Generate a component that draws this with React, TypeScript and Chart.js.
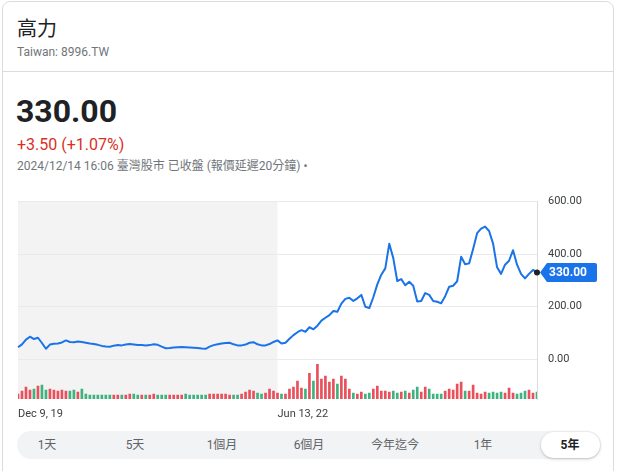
import React, { useEffect, useRef } from "react";
import { Chart, registerables } from "chart.js";

Chart.register(...registerables);

// ---- data ----
const prices: number[] = [
  46, 57, 75, 86, 77, 82, 62, 40, 56, 59,
  60, 64, 72, 66, 65, 68, 66, 63, 60, 58,
  55, 51, 49, 48, 52, 54, 53, 56, 58, 56,
  54, 54, 53, 54, 57, 55, 48, 42, 43, 45,
  46, 47, 46, 45, 44, 43, 41, 40, 48, 54,
  57, 60, 62, 63, 57, 53, 53, 56, 63, 65,
  57, 53, 53, 58, 66, 72, 60, 63, 78, 92,
  103, 111, 105, 122, 114, 128, 147, 158, 168, 184,
  181, 212, 230, 234, 222, 232, 245, 200, 195, 236,
  285, 322, 346, 440, 385, 298, 305, 282, 295, 280,
  220, 222, 252, 245, 222, 219, 213, 240, 276, 280,
  297, 390, 362, 365, 420, 480, 497, 505, 488, 440,
  350, 325, 360, 375, 415, 360, 325, 308, 325, 340,
  330,
];

const volumes: number[] = [
  1250, 2000, 3000, 2250, 2500, 3250, 3500, 2250, 2500, 2250,
  2000, 2250, 2000, 2000, 2250, 1750, 2500, 1250, 1000, 1000,
  1000, 1000, 1000, 1000, 1000, 1000, 1000, 1000, 1250, 1250,
  1000, 1000, 1000, 1000, 1250, 1000, 1000, 1000, 1000, 1000,
  1000, 1000, 1250, 1000, 1000, 1000, 1000, 1000, 1250, 1250,
  1250, 1250, 1250, 1000, 1000, 1000, 1250, 1750, 2250, 2000,
  1500, 1250, 1500, 2500, 2000, 1500, 1250, 1250, 2500, 3000,
  4500, 2750, 2500, 6500, 4500, 8750, 5000, 5750, 4250, 5000,
  3750, 5750, 5000, 2500, 1500, 1250, 1750, 1250, 1500, 2500,
  3250, 2000, 2000, 1750, 2000, 1500, 1750, 2000, 1500, 2250,
  3000, 1750, 3000, 2500, 1250, 1250, 1250, 2000, 2500, 2250,
  3750, 4250, 2000, 2000, 3500, 1500, 1250, 1750, 1500, 1750,
  1500, 1750, 1500, 2750, 1500, 1250, 1500, 2000, 2250, 1500,
  1750,
];

const xTickLabels: Record<number, string> = { 0: "Dec 9, 19", 65: "Jun 13, 22" };
const yTicks: number[] = [0, 200, 400, 600];
const shadeEndIndex = 65;
const lastPrice = 330.0;

const title = "高力";
const subtitle = "Taiwan: 8996.TW";
const priceText = "330.00";
const changeText = "+3.50 (+1.07%)";
const timeText = "2024/12/14 16:06 臺灣股市 已收盤 (報價延遲20分鐘) •";
const ranges: string[] = ["1天", "5天", "1個月", "6個月", "今年迄今", "1年", "5年"];
const rangeCenters: number[] = [47, 135, 222, 309, 395, 483, 570];
const activeRange = "5年";

const FONT = "Roboto, 'Noto Sans CJK TC', Arial, sans-serif";
const BLUE = "#1a73e8";
const RED = "#e8505b";
const GREEN = "#3fb27f";

const labels = prices.map((_, i) => String(i));
const barColors = volumes.map((_, i) =>
  i === 0 || prices[i] >= prices[i - 1] ? RED : GREEN
);

const shadePlugin = {
  id: "shade",
  beforeDraw(chart: any) {
    const { ctx, chartArea, scales } = chart;
    const xEnd = scales.x.getPixelForValue(shadeEndIndex);
    ctx.save();
    ctx.fillStyle = "#f3f3f3";
    ctx.fillRect(chartArea.left, chartArea.top, xEnd - chartArea.left, chartArea.bottom - chartArea.top);
    ctx.restore();
  },
};

const tagPlugin = {
  id: "tag",
  afterDraw(chart: any) {
    const { ctx, chartArea, scales } = chart;
    const y = scales.y.getPixelForValue(lastPrice);
    const x = chartArea.right;
    ctx.save();
    const tip = x + 3;
    const bx = x + 10;
    const bw = 50;
    const bh = 19;
    ctx.fillStyle = BLUE;
    ctx.beginPath();
    ctx.moveTo(tip, y);
    ctx.lineTo(bx, y - bh / 2);
    ctx.lineTo(bx + bw - 2, y - bh / 2);
    ctx.quadraticCurveTo(bx + bw, y - bh / 2, bx + bw, y - bh / 2 + 2);
    ctx.lineTo(bx + bw, y + bh / 2 - 2);
    ctx.quadraticCurveTo(bx + bw, y + bh / 2, bx + bw - 2, y + bh / 2);
    ctx.lineTo(bx, y + bh / 2);
    ctx.closePath();
    ctx.fill();
    ctx.fillStyle = "#ffffff";
    ctx.font = `bold 12px ${FONT}`;
    ctx.textBaseline = "middle";
    ctx.textAlign = "left";
    ctx.fillText(lastPrice.toFixed(2), bx + 2, y + 0.5);
    ctx.fillStyle = "#202124";
    ctx.beginPath();
    ctx.arc(x, y, 3, 0, Math.PI * 2);
    ctx.fill();
    ctx.restore();
  },
};

function PriceChart() {
  const ref = useRef<HTMLCanvasElement | null>(null);
  useEffect(() => {
    if (!ref.current) return;
    const chart = new Chart(ref.current, {
      type: "line",
      data: {
        labels,
        datasets: [
          {
            type: "line",
            data: prices,
            borderColor: BLUE,
            borderWidth: 2,
            pointRadius: 0,
            tension: 0,
            borderJoinStyle: "round",
            yAxisID: "y",
            order: 0,
          } as any,
          {
            type: "bar",
            data: volumes,
            backgroundColor: barColors,
            barThickness: 2,
            yAxisID: "yv",
            order: 1,
          } as any,
        ],
      },
      options: {
        animation: false,
        responsive: false,
        maintainAspectRatio: false,
        layout: { padding: { top: 0, left: 0, right: 0, bottom: 0 } },
        plugins: { legend: { display: false }, tooltip: { enabled: false } },
        scales: {
          x: {
            offset: false,
            grid: { display: false },
            border: { display: false },
            ticks: {
              autoSkip: false,
              maxRotation: 0,
              minRotation: 0,
              align: "start",
              padding: 1,
              color: "#3c4043",
              font: { size: 11, family: FONT },
              callback: (_v: any, i: number) => (xTickLabels[i] !== undefined ? xTickLabels[i] : null),
            },
            afterFit: (s: any) => {
              s.height = 20;
            },
          } as any,
          y: {
            position: "right",
            min: -151,
            max: 600,
            afterBuildTicks: (s: any) => {
              s.ticks = yTicks.map((v) => ({ value: v }));
            },
            grid: { color: "#e8eaed", drawTicks: false },
            border: { display: true, color: "#dadce0" },
            ticks: {
              padding: 11,
              color: "#3c4043",
              font: { size: 11, family: FONT },
              callback: (v: any) => Number(v).toFixed(2),
            },
            afterFit: (s: any) => {
              s.width = 80;
            },
          } as any,
          yv: {
            display: false,
            min: 0,
            max: 49750,
          },
        },
      },
      plugins: [shadePlugin, tagPlugin],
    });
    return () => chart.destroy();
  }, []);
  return (
    <canvas
      ref={ref}
      width={600}
      height={235}
      style={{ position: "absolute", left: 17, top: 184, width: 600, height: 235 }}
    />
  );
}

export default function App() {
  return (
    <div
      style={{
        position: "absolute",
        left: 0,
        top: 0,
        width: 618,
        height: 471,
        background: "#fff",
        overflow: "hidden",
        fontFamily: FONT,
      }}
    >
      <div
        style={{
          position: "absolute",
          left: 2,
          top: 1,
          width: 612,
          height: 520,
          border: "1px solid #dadce0",
          borderRadius: 8,
          boxSizing: "border-box",
        }}
      />
      <div style={{ position: "absolute", left: 3, top: 71, width: 610, height: 1, background: "#dadce0" }} />
      <div style={{ position: "absolute", left: 17, top: 17, fontSize: 20, lineHeight: "24px", color: "#202124" }}>
        {title}
      </div>
      <div style={{ position: "absolute", left: 17, top: 44, fontSize: 12, lineHeight: "16px", color: "#70757a" }}>
        {subtitle}
      </div>
      <div
        style={{
          position: "absolute",
          left: 16,
          top: 92,
          fontSize: 32,
          lineHeight: "38px",
          fontWeight: 700,
          color: "#202124",
        }}
      >
        {priceText}
      </div>
      <div style={{ position: "absolute", left: 17, top: 135, fontSize: 16, lineHeight: "20px", color: "#d93025" }}>
        {changeText}
      </div>
      <div
        style={{
          position: "absolute",
          left: 17,
          top: 158,
          fontSize: 12,
          lineHeight: "16px",
          color: "#70757a",
          whiteSpace: "nowrap",
        }}
      >
        {timeText}
      </div>

      <PriceChart />

      <div
        style={{
          position: "absolute",
          left: 17,
          top: 431,
          width: 584,
          height: 28,
          borderRadius: 14,
          background: "#f1f3f4",
        }}
      />
      <div
        style={{
          position: "absolute",
          left: 541,
          top: 432,
          width: 59,
          height: 26,
          borderRadius: 13,
          background: "#fff",
          boxShadow: "0 1px 3px rgba(60,64,67,0.3)",
        }}
      />
      {ranges.map((r, i) => (
        <div
          key={r}
          style={{
            position: "absolute",
            left: rangeCenters[i] - 40,
            top: 431,
            width: 80,
            height: 28,
            lineHeight: "28px",
            textAlign: "center",
            fontSize: 12,
            color: r === activeRange ? "#202124" : "#5f6368",
            fontWeight: r === activeRange ? 700 : 400,
          }}
        >
          {r}
        </div>
      ))}
    </div>
  );
}
